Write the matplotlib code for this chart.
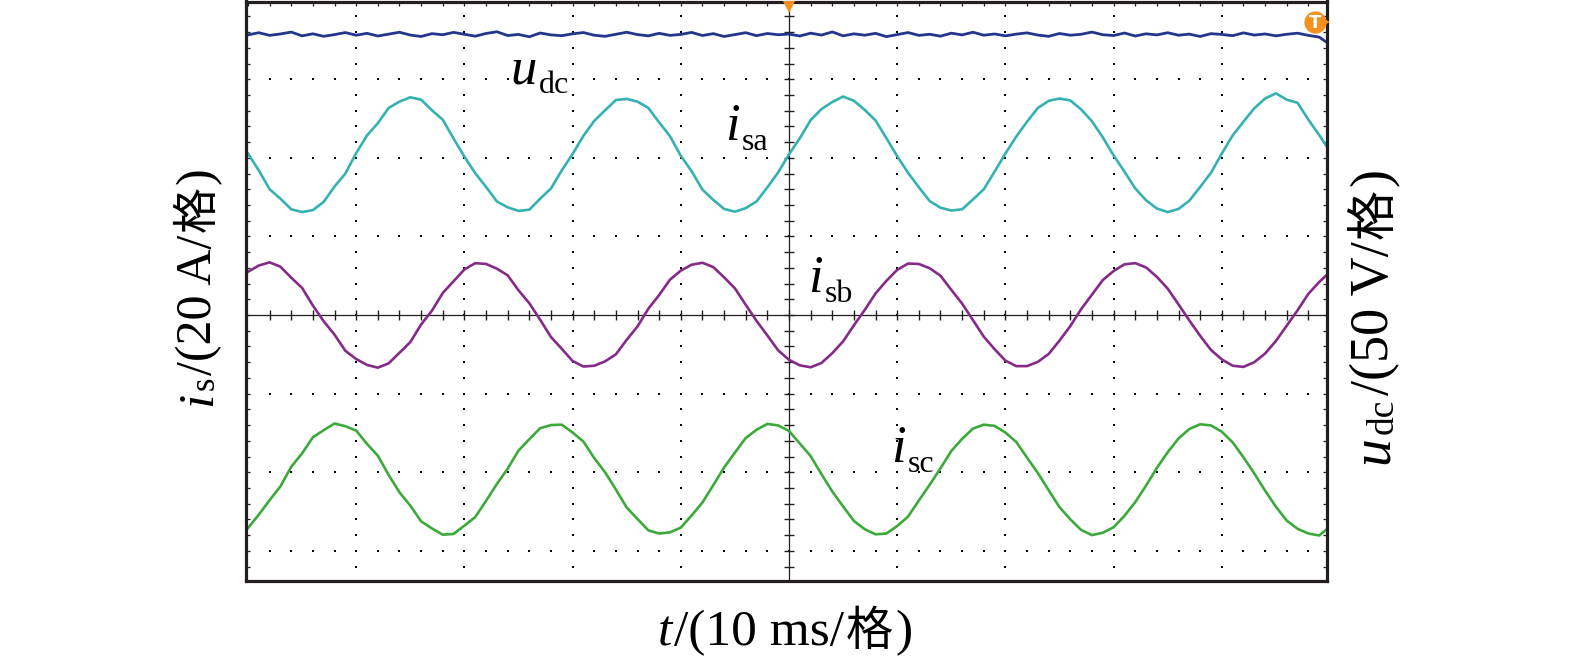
import numpy as np
import matplotlib
matplotlib.use("Agg")
import matplotlib.pyplot as plt
from matplotlib.ticker import MultipleLocator, NullFormatter
from matplotlib.transforms import IdentityTransform

# ---------------- data ----------------
t_ms = np.arange(-50, 51, 1)          # sample times, ms (10 ms / div)

isa_A = [0.3, -4.0, -8.8, -11.2, -13.9, -14.6, -14.1, -12.0, -8.1, -4.8,
         0.4, 4.9, 8.0, 11.9, 13.5, 14.6, 14.0, 11.3, 8.9, 4.1,
         -0.5, -4.7, -8.2, -11.9, -13.4, -14.3, -14.0, -11.2, -8.6, -4.0,
         0.2, 4.8, 8.6, 11.3, 13.9, 14.2, 13.5, 11.9, 8.2, 4.7,
         -0.3, -4.2, -8.9, -11.5, -13.8, -14.5, -13.6, -11.9, -8.3, -4.5,
         0.1, 4.2, 8.8, 11.6, 13.4, 14.8, 13.7, 11.4, 8.7, 4.2,
         -0.4, -4.6, -8.3, -11.8, -13.5, -14.2, -13.9, -11.4, -8.8, -4.3,
         0.3, 4.6, 8.4, 11.9, 13.7, 14.3, 13.8, 11.5, 8.5, 4.4,
         -0.2, -4.3, -8.6, -11.6, -13.7, -14.6, -13.8, -11.7, -8.2, -4.6,
         0.3, 4.9, 8.4, 11.8, 14.3, 15.6, 14.0, 13.2, 8.9, 5.0,
         0.8]

isb_A = [11.0, 12.6, 13.4, 12.3, 9.5, 6.9, 2.4, -1.6, -5.0, -9.1,
         -11.2, -12.7, -13.4, -12.3, -9.6, -6.9, -2.4, 1.1, 5.6, 8.6,
         11.6, 13.2, 13.0, 11.8, 10.1, 6.3, 3.0, -1.2, -5.6, -8.6,
         -11.7, -13.1, -12.9, -11.8, -10.0, -6.3, -2.9, 1.6, 5.1, 9.0,
         11.3, 12.8, 13.3, 12.2, 9.6, 6.8, 2.6, -1.5, -5.2, -9.0,
         -11.4, -12.8, -13.3, -12.2, -9.7, -6.7, -2.6, 1.3, 5.5, 8.7,
         11.5, 13.1, 13.0, 11.9, 10.0, 6.4, 2.9, -1.3, -5.5, -8.7,
         -11.6, -13.0, -13.0, -11.9, -9.9, -6.5, -2.8, 1.5, 5.2, 8.9,
         11.2, 12.9, 13.2, 12.1, 9.7, 6.7, 2.7, -1.4, -5.3, -8.9,
         -11.3, -12.9, -13.2, -12.0, -9.8, -6.6, -2.7, 1.2, 5.4, 8.4,
         11.0]

isc_A = [-12.4, -9.0, -5.3, -1.8, 3.2, 6.6, 10.7, 12.5, 14.2, 13.5,
         12.4, 9.0, 6.0, 1.1, -3.3, -6.7, -10.7, -12.5, -14.1, -13.9,
         -11.8, -9.6, -5.5, -1.2, 2.7, 7.3, 10.2, 13.0, 13.8, 13.9,
         11.9, 9.6, 5.4, 1.8, -2.6, -7.2, -10.1, -13.0, -13.8, -13.5,
         -12.3, -9.2, -5.9, -1.5, 3.0, 6.8, 10.5, 12.6, 14.1, 13.7,
         12.3, 9.1, 5.9, 1.3, -3.1, -6.9, -10.6, -12.7, -14.0, -13.8,
         -11.9, -9.5, -5.4, -1.4, 2.8, 7.2, 10.3, 12.9, 13.9, 13.6,
         11.9, 9.5, 5.5, 1.6, -2.8, -7.1, -10.2, -12.9, -14.2, -13.6,
         -12.2, -9.3, -5.8, -1.6, 2.9, 6.9, 10.4, 12.8, 14.0, 13.7,
         12.1, 9.4, 5.6, 1.5, -2.9, -7.0, -10.5, -12.6, -13.8, -14.3,
         -12.0]

udc_V = [178.2, 179.6, 177.9, 178.8, 180.0, 177.6, 178.9, 177.3, 178.4, 179.7,
         178.0, 179.2, 177.5, 178.7, 179.9, 178.1, 177.2, 179.0, 178.3, 179.8,
         178.6, 177.4, 179.1, 180.2, 177.8, 178.5, 177.0, 179.4, 178.2, 177.7,
         178.9, 179.7, 178.0, 177.3, 178.6, 179.9, 178.4, 177.6, 179.2, 177.9,
         178.5, 179.8, 177.8, 179.0, 177.2, 178.4, 179.6, 177.7, 179.1, 178.3,
         178.7, 177.5, 179.3, 178.1, 180.1, 177.6, 178.9, 178.0, 179.2, 177.1,
         178.4, 179.7, 177.9, 178.6, 177.4, 179.3, 178.2, 179.9, 178.0, 178.8,
         177.6, 178.7, 179.5, 178.1, 177.3, 179.1, 178.0, 178.6, 180.0, 178.3,
         177.8, 179.4, 177.5, 178.9, 178.2, 179.6, 178.0, 178.7, 177.2, 179.0,
         178.5, 177.7, 179.5, 178.1, 178.8, 177.6, 178.6, 179.3, 177.9, 176.8,
         172.0]

# scope settings
T_PER_DIV = 10.0     # ms / div
I_PER_DIV = 20.0     # A / div
U_PER_DIV = 50.0     # V / div
isa_offset_div = 2.04
isb_offset_div = 0.0
isc_offset_div = -2.09
trigger_time_ms = 0.0
trigger_level_div = 3.73

# ---------------- styling ----------------
SERIF = "Liberation Serif"
CJK = "Noto Sans CJK SC"
BLACK = "#231f20"
C_UDC = "#24368c"
C_ISA = "#36b1b1"
C_ISB = "#862a8a"
C_ISC = "#3caa3a"
ORANGE = "#f5901e"

W, H = 1575, 662
fig = plt.figure(figsize=(W / 100, H / 100), dpi=100)
fig.patch.set_facecolor("white")

L, R, T, B = 245.5, 1327.0, 1.5, 581.0
ax = fig.add_axes([L / W, (H - B) / H, (R - L) / W, (B - T) / H])
ax.set_xlim(-5.023, 4.972)
ax.set_ylim(-3.384, 3.989)

for s in ax.spines.values():
    s.set_linewidth(2.3)
    s.set_color(BLACK)
    s.set_zorder(6)

ax.xaxis.set_major_locator(MultipleLocator(1))
ax.xaxis.set_minor_locator(MultipleLocator(0.2))
ax.yaxis.set_major_locator(MultipleLocator(1))
ax.yaxis.set_minor_locator(MultipleLocator(0.2))
ax.xaxis.set_major_formatter(NullFormatter())
ax.yaxis.set_major_formatter(NullFormatter())
ax.tick_params(which="both", direction="in", top=True, bottom=False,
               left=True, right=True, length=3.0, width=0.9, color=BLACK)

# dotted graticule
minor = np.round(np.arange(-5.0, 5.01, 0.2), 2)
for X in range(-4, 5):
    if X == 0:
        continue
    ys = minor[(minor > -3.38) & (minor < 3.99)]
    ax.plot(np.full_like(ys, X), ys, ls="none", marker="s", ms=1.8,
            mew=0, color="black", zorder=1)
for Y in range(-3, 4):
    if Y == 0:
        continue
    xs = minor[(minor > -5.0) & (minor < 4.97)]
    ax.plot(xs, np.full_like(xs, Y), ls="none", marker="s", ms=1.8,
            mew=0, color="black", zorder=1)

# centre cross with minor ticks
ax.axhline(0, color=BLACK, lw=0.9, zorder=2)
ax.axvline(0, color=BLACK, lw=0.9, zorder=2)
xs = minor[(minor > -5.0) & (minor < 4.97)]
ax.plot(xs, np.zeros_like(xs), ls="none", marker="|", ms=6.5, mew=1.0,
        color=BLACK, zorder=2)
ys = minor[(minor > -3.38) & (minor < 3.99)]
ax.plot(np.zeros_like(ys), ys, ls="none", marker="_", ms=6.5, mew=1.0,
        color=BLACK, zorder=2)

# traces
x_div = t_ms / T_PER_DIV
ax.plot(x_div, np.array(udc_V) / U_PER_DIV, color=C_UDC, lw=2.0, zorder=4)
ax.plot(x_div, np.array(isa_A) / I_PER_DIV + isa_offset_div, color=C_ISA, lw=1.9, zorder=4)
ax.plot(x_div, np.array(isb_A) / I_PER_DIV + isb_offset_div, color=C_ISB, lw=1.9, zorder=4)
ax.plot(x_div, np.array(isc_A) / I_PER_DIV + isc_offset_div, color=C_ISC, lw=1.9, zorder=4)

# trigger markers
ylim_top = ax.get_ylim()[1]
ax.plot(trigger_time_ms / T_PER_DIV, ylim_top - 0.07, marker="v", ms=9, color=ORANGE,
        mew=0, clip_on=False, zorder=7)
tx = 4.86
ax.plot(tx, trigger_level_div, marker="o", ms=16, color=ORANGE, mew=0, clip_on=False, zorder=7)
ax.plot(tx + 0.085, trigger_level_div, marker=">", ms=8, color=ORANGE, mew=0, clip_on=False, zorder=7)
ax.text(tx, trigger_level_div - 0.01, "T", color="white", fontsize=13, fontweight="bold",
        family="DejaVu Sans", ha="center", va="center", zorder=8)


# ---------------- rich text helper (mixed fonts, subscripts, CJK) ----------------
def rich_text(pieces, x, y, rotation=0, center=True, gap=1.0):
    arts = []
    for s, props, shift in pieces:
        t = fig.text(0, 0, s, transform=IdentityTransform(), rotation=rotation,
                     rotation_mode="anchor", ha="left", va="baseline", **props)
        arts.append((t, shift))
    fig.canvas.draw()
    r = fig.canvas.get_renderer()
    lens = []
    for t, _ in arts:
        bb = t.get_window_extent(r)
        lens.append(bb.width if rotation == 0 else bb.height)
    total = sum(lens) + gap * (len(lens) - 1)
    pos = (x if rotation == 0 else y) - (total / 2 if center else 0)
    for (t, shift), ln in zip(arts, lens):
        if rotation == 0:
            t.set_position((pos, y - shift))
        else:
            t.set_position((x + shift, pos))
        pos += ln + gap


def rm(size):
    return dict(family=SERIF, fontsize=size, color="black")


def it(size):
    return dict(family=SERIF, fontsize=size, style="italic", color="black")


def cj(size):
    return dict(family=CJK, fontsize=size, color="black")


# axis labels
rich_text([("t", it(37), 0), ("/(10 ms/", rm(37), 0), ("格", cj(34), 0), (")", rm(37), 0)],
          785, H - 645, rotation=0, center=True, gap=2)
rich_text([("i", it(37), 0), ("s", rm(25), 3), ("/(20 A/", rm(36), 0), ("格", cj(33), 0),
           (")", rm(36), 0)],
          211, H - 287, rotation=90, center=True, gap=2)
rich_text([("u", it(40), 0), ("dc", rm(27), 5), ("/(50 V/", rm(39), 0), ("格", cj(36), 0),
           (")", rm(39), 0)],
          1388, H - 316, rotation=90, center=True, gap=3)

# trace labels
for main, sub, px, py in [("u", "dc", 510, 83), ("i", "sa", 725, 140),
                          ("i", "sb", 808, 292), ("i", "sc", 891, 462)]:
    rich_text([(main, it(38), 0), (sub, rm(23), 10)], px, H - py,
              rotation=0, center=False, gap=2)

fig.savefig("out.png", dpi=100, facecolor="white")
